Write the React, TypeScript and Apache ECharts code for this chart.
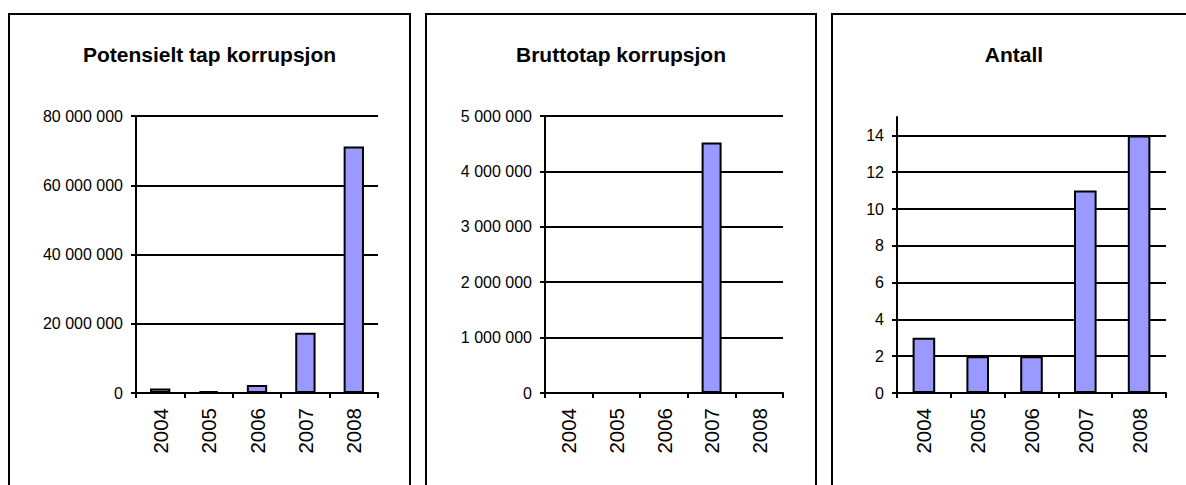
import React, { useEffect, useRef } from "react";
import * as echarts from "echarts";

const categories = ["2004", "2005", "2006", "2007", "2008"];
const potensieltTap = [1270000, 550000, 2300000, 17400000, 71200000];
const bruttotap = [0, 0, 0, 4520000, 0];
const antall = [3, 2, 2, 11, 14];

const titles = ["Potensielt tap korrupsjon", "Bruttotap korrupsjon", "Antall"];
const antallTicks = [0, 2, 4, 6, 8, 10, 12, 14];

const FONT = "'Liberation Sans', Arial, sans-serif";

const fmt = (v: number) => String(v).replace(/\B(?=(\d{3})+(?!\d))/g, " ");

export default function App() {
  const ref = useRef<HTMLDivElement>(null);
  useEffect(() => {
    if (!ref.current) return;
    const chart = echarts.init(ref.current, null, { renderer: "svg" });

    const grids = [
      { left: 136, top: 116, width: 242, height: 277 },
      { left: 545, top: 116, width: 238, height: 277 },
      { left: 897, top: 117, width: 269, height: 276 },
    ];
    const titleCenters = [209.5, 621, 1014];
    const panels = [
      { x: 9, w: 401 },
      { x: 426, w: 390 },
      { x: 832, w: 364 },
    ];

    const lineStyle = { color: "#000", width: 2 };

    const xAxes = grids.map((_, i) => ({
      type: "category",
      gridIndex: i,
      data: categories,
      axisLine: { show: true, lineStyle },
      axisTick: { show: true, length: 5, lineStyle },
      axisLabel: {
        rotate: 90,
        margin: 15,
        color: "#000",
        fontFamily: FONT,
        fontSize: 20.5,
      },
      splitLine: { show: false },
    }));

    const yBase = (i: number) => ({
      type: "value",
      gridIndex: i,
      min: 0,
      axisLine: { show: true, lineStyle },
      axisTick: { show: true, length: 5, lineStyle },
      splitLine: { show: true, lineStyle },
    });

    const yAxes = [
      {
        ...yBase(0),
        max: 80000000,
        interval: 20000000,
        axisLabel: { margin: 13, color: "#000", fontFamily: FONT, fontSize: 16, formatter: (v: number) => fmt(v) },
      },
      {
        ...yBase(1),
        max: 5000000,
        interval: 1000000,
        axisLabel: { margin: 13, color: "#000", fontFamily: FONT, fontSize: 16, formatter: (v: number) => fmt(v) },
      },
      {
        ...yBase(2),
        max: 15,
        interval: 2,
        axisTick: { show: true, length: 5, lineStyle, customValues: antallTicks },
        axisLabel: {
          margin: 13,
          color: "#000",
          fontFamily: FONT,
          fontSize: 16,
          customValues: antallTicks,
        },
      },
    ];

    const datasets = [potensieltTap, bruttotap, antall];
    const series = datasets.map((d, i) => ({
      type: "bar",
      xAxisIndex: i,
      yAxisIndex: i,
      data: d,
      barWidth: "42%",
      itemStyle: { color: "#9999FF", borderColor: "#000", borderWidth: 2 },
      z: 3,
    }));

    chart.setOption({
      animation: false,
      backgroundColor: "#fff",
      title: titles.map((t, i) => ({
        text: t,
        left: titleCenters[i],
        top: 54,
        padding: 0,
        textAlign: "center",
        textVerticalAlign: "middle",
        textStyle: { fontFamily: FONT, fontSize: 21, fontWeight: "bold", color: "#000" },
      })),
      grid: grids,
      xAxis: xAxes,
      yAxis: yAxes,
      series,
      graphic: panels.map((p) => ({
        type: "rect",
        shape: { x: p.x, y: 14, width: p.w, height: 520 },
        style: { fill: "none", stroke: "#000", lineWidth: 2 },
        silent: true,
        z: 0,
      })),
    });

    return () => chart.dispose();
  }, []);

  return (
    <div
      ref={ref}
      style={{ position: "fixed", left: 0, top: 0, width: 1186, height: 485, background: "#fff" }}
    />
  );
}
